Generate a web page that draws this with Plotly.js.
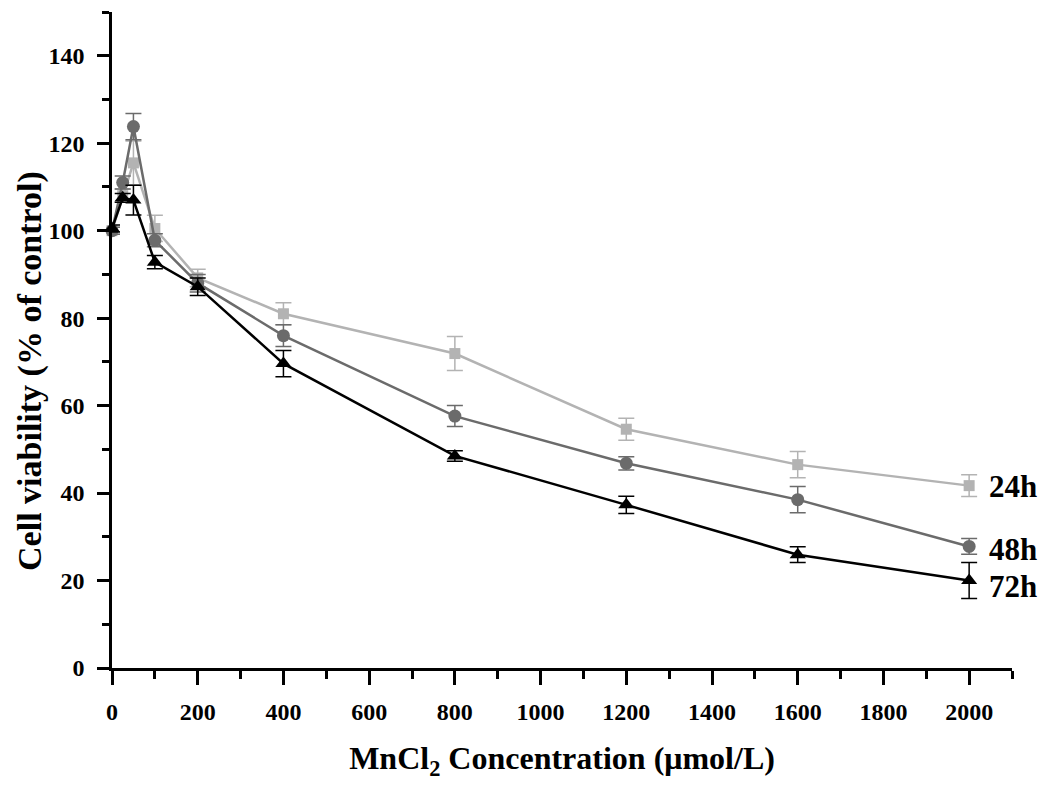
<!DOCTYPE html>
<html><head><meta charset="utf-8">
<script src="https://cdn.plot.ly/plotly-3.0.1.min.js"></script>
<style>body{margin:0;background:#fff}#c{width:1050px;height:791px}</style>
</head><body><div id="c"></div>
<script>
const conc = [0, 25, 50, 100, 200, 400, 800, 1200, 1600, 2000];
const v24 = [100, 108, 115.5, 100.5, 89.2, 81, 71.9, 54.6, 46.5, 41.7];
const e24 = [0.8, 1.5, 5, 3, 2, 2.5, 3.9, 2.5, 3, 2.5];
const v48 = [100, 111, 123.8, 97.8, 88, 76, 57.6, 46.8, 38.5, 27.8];
const e48 = [0.8, 1.5, 3, 1.5, 2, 2.5, 2.4, 1.5, 3, 1.8];
const v72 = [100.5, 107.5, 107, 92.8, 87.2, 69.6, 48.5, 37.3, 25.9, 20];
const e72 = [0.8, 1, 3.4, 1.5, 2, 3, 1.2, 2, 1.8, 4.1];
const labels = ['24h', '48h', '72h'];
const xTicks = [0,200,400,600,800,1000,1200,1400,1600,1800,2000];
const yTicks = [0,20,40,60,80,100,120,140];
const yTitle = 'Cell viability (% of control)';
const xTitle = 'MnCl<sub>2</sub> Concentration (μmol/L)';

function tr(y, e, color, sym, size) {
  return {
    x: conc, y: y, type: 'scatter', mode: 'lines+markers', cliponaxis: false,
    line: {color: color, width: 2.5},
    marker: {symbol: sym, color: color, size: size},
    error_y: {type: 'data', array: e, visible: true, color: color, thickness: 1.5, width: 8}
  };
}
const data = [
  tr(v24, e24, '#b3b3b3', 'square', 11),
  tr(v48, e48, '#6b6b6b', 'circle', 13),
  tr(v72, e72, '#000000', 'triangle-up', 14)
];
const fam = 'Liberation Serif, Times New Roman, serif';
const tickFont = {family: fam, size: 24, weight: 'bold', color: '#000'};
const layout = {
  width: 1050, height: 791, showlegend: false,
  paper_bgcolor: '#fff', plot_bgcolor: '#fff',
  margin: {l: 112, r: 38, t: 12, b: 123},
  font: {family: fam, color: '#000'},
  xaxis: {
    range: [0, 2100], showgrid: false, zeroline: false,
    showline: true, linecolor: '#000', linewidth: 2.5,
    ticks: 'outside', ticklen: 14, tickwidth: 2.5, tickcolor: '#000',
    tickvals: xTicks, ticklabelstandoff: 6,
    minor: {ticks: 'outside', ticklen: 8, tickwidth: 2.5, tickcolor: '#000', dtick: 100, tick0: 0},
    tickfont: tickFont,
    title: {text: xTitle, standoff: 24,
      font: {family: fam, size: 32, weight: 'bold', color: '#000'}}
  },
  yaxis: {
    range: [0, 150], showgrid: false, zeroline: false,
    showline: true, linecolor: '#000', linewidth: 2.5,
    ticks: 'outside', ticklen: 12, tickwidth: 2.5, tickcolor: '#000',
    tickvals: yTicks, ticklabelstandoff: 8,
    minor: {ticks: 'outside', ticklen: 7, tickwidth: 2.5, tickcolor: '#000', dtick: 10, tick0: 0},
    tickfont: tickFont
  },
  annotations: [
    {x: 2000, y: v24[9], text: labels[0], yshift: -1},
    {x: 2000, y: v48[9], text: labels[1], yshift: -3},
    {x: 2000, y: v72[9], text: labels[2], yshift: -6}
  ].map(a => Object.assign(a, {xref: 'x', yref: 'y', xanchor: 'left', yanchor: 'middle', xshift: 18, showarrow: false,
     font: {family: fam, size: 31, weight: 'bold', color: '#000'}})).concat([
    {xref: 'paper', yref: 'paper', x: -0.091, y: 0.453, xanchor: 'center', yanchor: 'middle',
     textangle: -90, showarrow: false, text: yTitle,
     font: {family: fam, size: 34, weight: 'bold', color: '#000'}}
  ])
};
Plotly.newPlot('c', data, layout, {displayModeBar: false});
</script></body></html>
